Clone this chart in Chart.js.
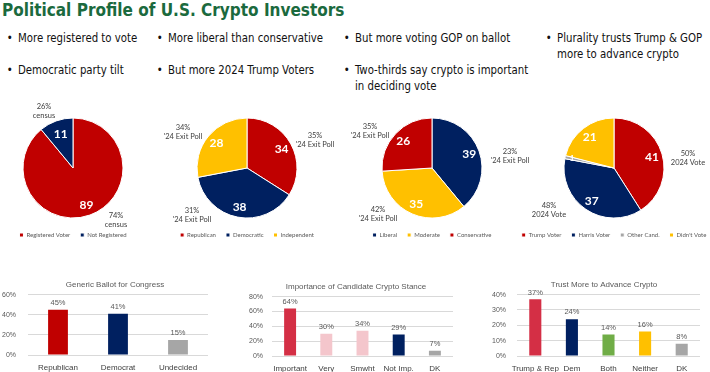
<!DOCTYPE html>
<html>
<head>
<meta charset="utf-8">
<script src="https://cdn.jsdelivr.net/npm/chart.js@4.4.0/dist/chart.umd.min.js"></script>
<style>
  body { margin: 0; width: 710px; height: 372px; overflow: hidden; background: #fff; position: relative;
         font-family: "DejaVu Sans Condensed", "Liberation Sans", sans-serif; }
  .box { position: absolute; }
  h1 { position: absolute; left: 2px; top: 0px; margin: 0; font-size: 17px; font-weight: bold; color: #1B6A3E; white-space: nowrap; }
  .b { position: absolute; font-size: 13px; line-height: 16px; color: #111; white-space: nowrap;
       transform: scaleX(0.87); transform-origin: 0 0; }
  .b:before { content: "\2022"; position: absolute; left: -13px; }
  .note { position: absolute; font-family: Lato, sans-serif; font-size: 7.5px; line-height: 9px; color: #404040;
          text-align: center; transform: translateX(-50%); white-space: nowrap; }
</style>
</head>
<body>
<h1>Political Profile of U.S. Crypto Investors</h1>

<div class="b" style="left:18px;top:30px">More registered to vote</div>
<div class="b" style="left:18px;top:62px">Democratic party tilt</div>
<div class="b" style="left:168px;top:30px">More liberal than conservative</div>
<div class="b" style="left:168px;top:62px">But more 2024 Trump Voters</div>
<div class="b" style="left:355px;top:30px">But more voting GOP on ballot</div>
<div class="b" style="left:355px;top:62px">Two-thirds say crypto is important<br>in deciding vote</div>
<div class="b" style="left:557px;top:30px">Plurality trusts Trump &amp; GOP<br>more to advance crypto</div>

<div class="box" style="left:0px;top:114px;width:146px;height:134px"><canvas id="pie1"></canvas></div>
<div class="box" style="left:162px;top:114px;width:170px;height:134px"><canvas id="pie2"></canvas></div>
<div class="box" style="left:347px;top:114px;width:170px;height:134px"><canvas id="pie3"></canvas></div>
<div class="box" style="left:509px;top:114px;width:210px;height:134px"><canvas id="pie4"></canvas></div>

<div class="note" style="left:44px;top:102px">26%<br>census</div>
<div class="note" style="left:116px;top:211px">74%<br>census</div>
<div class="note" style="left:183px;top:123px">34%<br>'24 Exit Poll</div>
<div class="note" style="left:315px;top:131px">35%<br>'24 Exit Poll</div>
<div class="note" style="left:192px;top:206px">31%<br>'24 Exit Poll</div>
<div class="note" style="left:370px;top:122px">35%<br>'24 Exit Poll</div>
<div class="note" style="left:510px;top:147px">23%<br>'24 Exit Poll</div>
<div class="note" style="left:378px;top:205px">42%<br>'24 Exit Poll</div>
<div class="note" style="left:688px;top:149px">50%<br>2024 Vote</div>
<div class="note" style="left:549px;top:201px">48%<br>2024 Vote</div>

<div class="box" style="left:0px;top:276px;width:230px;height:96px"><canvas id="bar1"></canvas></div>
<div class="box" style="left:235px;top:278px;width:242px;height:95px"><canvas id="bar2"></canvas></div>
<div class="box" style="left:490px;top:276px;width:228px;height:97px"><canvas id="bar3"></canvas></div>

<script>
const regLabels = ['Registered Voter', 'Not Registered'];
const regValues = [89, 11];
const partyLabels = ['Republican', 'Democratic', 'Independent'];
const partyValues = [34, 38, 28];
const ideoLabels = ['Liberal', 'Moderate', 'Conservative'];
const ideoValues = [39, 35, 26];
const voteLabels = ['Trump Voter', 'Harris Voter', 'Other Cand.', "Didn't Vote"];
const voteValues = [41, 37, 1, 21];

const ballotLabels = ['Republican', 'Democrat', 'Undecided'];
const ballotValues = [45, 41, 15];
const stanceLabels = ['Important', 'Very', 'Smwht', 'Not Imp.', 'DK'];
const stanceValues = [64, 30, 34, 29, 7];
const trustLabels = ['Trump & Rep', 'Dem', 'Both', 'Neither', 'DK'];
const trustValues = [37, 24, 14, 16, 8];

const RED = '#C00000', NAVY = '#002060', GOLD = '#FFC000', GREY = '#A6A6A6';
const CRIMSON = '#D42F45', PINK = '#F4C6CC', GREEN = '#70AD47';
const sans = '"Liberation Sans", Arial, sans-serif';

// white numbers inside the pie slices
const sliceLabels = {
  id: 'sliceLabels',
  afterDatasetsDraw(chart) {
    const ctx = chart.ctx;
    const values = chart.data.datasets[0].data;
    chart.getDatasetMeta(0).data.forEach((arc, i) => {
      const v = values[i];
      const mid = (arc.startAngle + arc.endAngle) / 2;
      const r = arc.outerRadius * (v < 5 ? 0.86 : v < 20 ? 0.72 : 0.79);
      ctx.save();
      ctx.fillStyle = '#fff';
      ctx.font = (v < 5 ? 'bold 8px ' : 'bold 12px ') + 'Lato, sans-serif';
      ctx.textAlign = 'center';
      ctx.textBaseline = 'middle';
      ctx.fillText(v, arc.x + Math.cos(mid) * r, arc.y + Math.sin(mid) * r);
      ctx.restore();
    });
  }
};

// percent labels above the bars
const barLabels = {
  id: 'barLabels',
  afterDatasetsDraw(chart) {
    const ctx = chart.ctx;
    const values = chart.data.datasets[0].data;
    chart.getDatasetMeta(0).data.forEach((bar, i) => {
      ctx.save();
      ctx.fillStyle = '#595959';
      ctx.font = '7.5px ' + sans;
      ctx.textAlign = 'center';
      ctx.textBaseline = 'bottom';
      ctx.fillText(values[i] + '%', bar.x, bar.y - 3);
      ctx.restore();
    });
  }
};

function pieChart(id, labels, values, colors) {
  new Chart(document.getElementById(id), {
    type: 'pie',
    data: {
      labels: labels,
      datasets: [{ data: values, backgroundColor: colors, borderColor: '#fff', borderWidth: 1, hoverOffset: 0, radius: 50 }]
    },
    options: {
      responsive: true,
      maintainAspectRatio: false,
      animation: false,
      plugins: {
        tooltip: { enabled: false },
        legend: {
          position: 'bottom',
          labels: { boxWidth: 4, boxHeight: 4, padding: 10, color: '#595959', font: { size: 6, family: 'Lato, sans-serif' } }
        }
      }
    },
    plugins: [sliceLabels]
  });
}

// an empty right-hand axis (spacer) pushes the centred title to where the original has it
function barChart(id, labels, values, colors, title, max, step, yWidth, yPad, spacer) {
  new Chart(document.getElementById(id), {
    type: 'bar',
    data: {
      labels: labels,
      datasets: [{ data: values, backgroundColor: colors, barPercentage: 0.33, categoryPercentage: 1 }]
    },
    options: {
      responsive: true,
      maintainAspectRatio: false,
      animation: false,
      plugins: {
        legend: { display: false },
        tooltip: { enabled: false },
        title: {
          display: true, text: title, color: '#595959',
          font: { size: 8, family: sans, weight: 'normal' },
          padding: { top: 4, bottom: 5 }
        }
      },
      scales: {
        x: {
          grid: { display: false, drawTicks: false },
          border: { display: false },
          ticks: { color: '#404040', font: { size: 8, family: sans }, padding: 8, maxRotation: 0, autoSkip: false },
          afterFit: s => { s.height = 17; }
        },
        y: {
          min: 0, max: max,
          grid: { color: '#D9D9D9', drawTicks: false },
          border: { display: false },
          ticks: { stepSize: step, padding: yPad, color: '#595959', font: { size: 7, family: sans },
                   callback: v => v + '%' },
          afterFit: s => { s.width = yWidth; }
        },
        spacer: {
          type: 'linear', position: 'right',
          grid: { display: false, drawTicks: false },
          border: { display: false },
          ticks: { display: false },
          afterFit: s => { s.width = spacer; }
        }
      }
    },
    plugins: [barLabels]
  });
}

pieChart('pie1', regLabels, regValues, [RED, NAVY]);
pieChart('pie2', partyLabels, partyValues, [RED, NAVY, GOLD]);
pieChart('pie3', ideoLabels, ideoValues, [NAVY, GOLD, RED]);
pieChart('pie4', voteLabels, voteValues, [RED, NAVY, GREY, GOLD]);

barChart('bar1', ballotLabels, ballotValues, [RED, NAVY, GREY], 'Generic Ballot for Congress', 60, 20, 28, 12, 22);
barChart('bar2', stanceLabels, stanceValues, [CRIMSON, PINK, PINK, NAVY, GREY], 'Importance of Candidate Crypto Stance', 80, 20, 37, 9, 24);
barChart('bar3', trustLabels, trustValues, [CRIMSON, NAVY, GREEN, GOLD, GREY], 'Trust More to Advance Crypto', 40, 10, 27, 11, 18);
</script>
</body>
</html>
